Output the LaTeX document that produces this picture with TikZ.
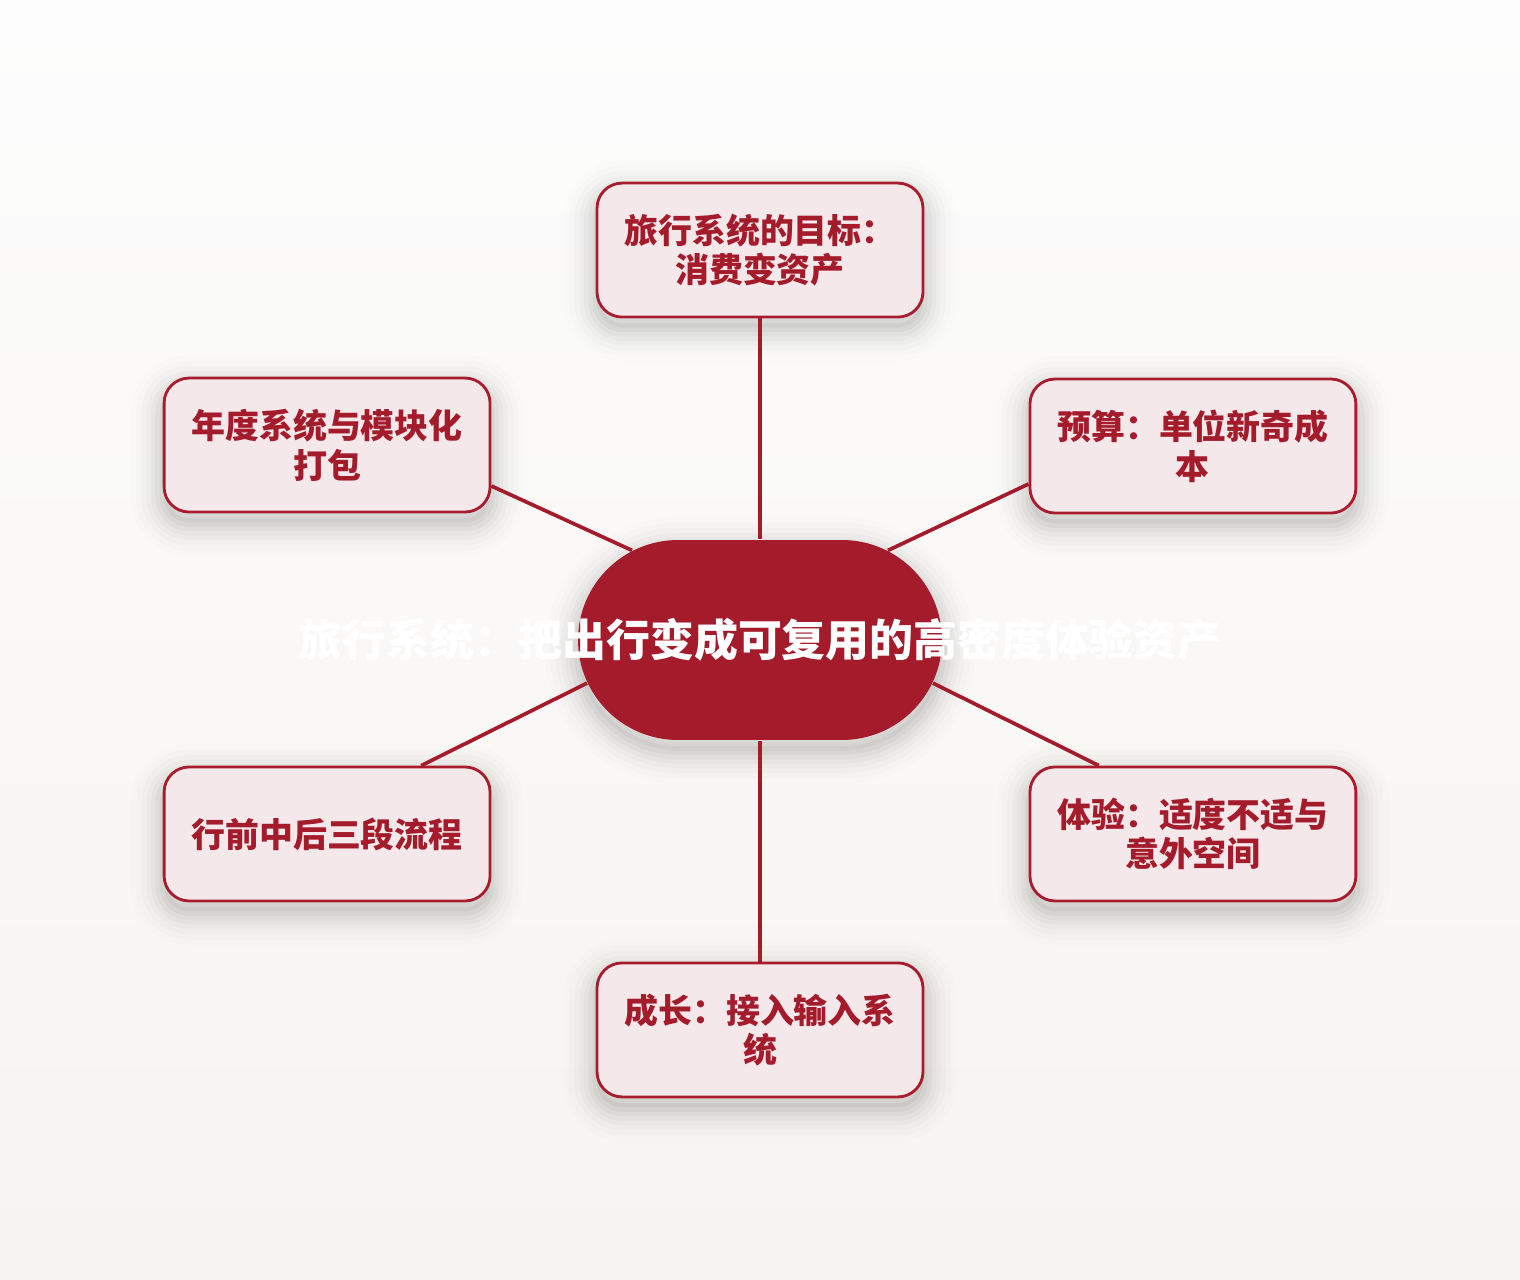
\documentclass[tikz,border=0pt]{standalone}
\usepackage{fontspec}
\setmainfont{Noto Sans CJK SC}
\usetikzlibrary{positioning,shapes.misc}

\definecolor{hubred}{HTML}{A41B2B}
\definecolor{leafpink}{HTML}{F4E8EB}
\definecolor{leafline}{HTML}{A81D2E}
\definecolor{bgtop}{HTML}{FDFDFD}
\definecolor{bgbottom}{HTML}{F6F4F0}

\begin{document}
\begin{tikzpicture}[x=0.02cm,y=-0.02cm,thick]
\tikzstyle{softshadow}=[preaction={fill=black,fill opacity=0.03,transform canvas={yshift=-6pt}},
  preaction={draw=black,draw opacity=0.03,line width=5pt,transform canvas={yshift=-6pt}},
  preaction={draw=black,draw opacity=0.028,line width=10pt,transform canvas={yshift=-6pt}},
  preaction={draw=black,draw opacity=0.024,line width=15pt,transform canvas={yshift=-6pt}},
  preaction={draw=black,draw opacity=0.02,line width=20pt,transform canvas={yshift=-6pt}},
  preaction={draw=black,draw opacity=0.015,line width=26pt,transform canvas={yshift=-6pt}},
  preaction={draw=black,draw opacity=0.01,line width=32pt,transform canvas={yshift=-6pt}},
  preaction={draw=black,draw opacity=0.006,line width=38pt,transform canvas={yshift=-6pt}}]
\tikzstyle{leaf}=[softshadow,draw=leafline,line width=1.6pt,fill=leafpink,rounded corners=0.5cm,minimum width=6.52cm,minimum height=2.68cm,align=center,text=hubred,font=\fontsize{19.3}{22.5}\selectfont\bfseries]
\tikzstyle{hubbox}=[softshadow,shape=rounded rectangle,fill=hubred,minimum width=7.28cm,minimum height=4cm,inner sep=0pt]
\tikzstyle{hubtext}=[text=white,font=\fontsize{25}{30}\selectfont\bfseries]
\tikzstyle{link}=[draw=hubred,line width=2.1pt]

\shade[top color=bgtop,bottom color=bgbottom] (0,0) rectangle (1520,1280);
\useasboundingbox (0,0) rectangle (1520,1280);

\node[hubbox]   (hub) at (760,640) [label={[hubtext]center:{旅行系统：把出行变成可复用的高密度体验资产}}] {};
\node[leaf]     (goal) [above of=hub,node distance=7.8cm] {旅行系统的目标：\\消费变资产};
\node[leaf]     (budget) [right of=hub,node distance=8.66cm,yshift=3.88cm] {预算：单位新奇成\\本};
\node[leaf]     (annual) [left of=hub,node distance=8.66cm,yshift=3.9cm] {年度系统与模块化\\打包};
\node[leaf]     (process) [left of=hub,node distance=8.66cm,yshift=-3.88cm] {行前中后三段流程};
\node[leaf]     (experience) [right of=hub,node distance=8.66cm,yshift=-3.88cm] {体验：适度不适与\\意外空间};
\node[leaf]     (growth) [below of=hub,node distance=7.8cm] {成长：接入输入系\\统};

\path[link]
(goal.south) edge (hub.north)
(budget.193) edge (hub.35)
(annual.-14) edge (hub.145)
(process.36) edge (hub.194)
(experience.144) edge (hub.-14)
(growth.north) edge (hub.south)
;
\end{tikzpicture}
\end{document}
